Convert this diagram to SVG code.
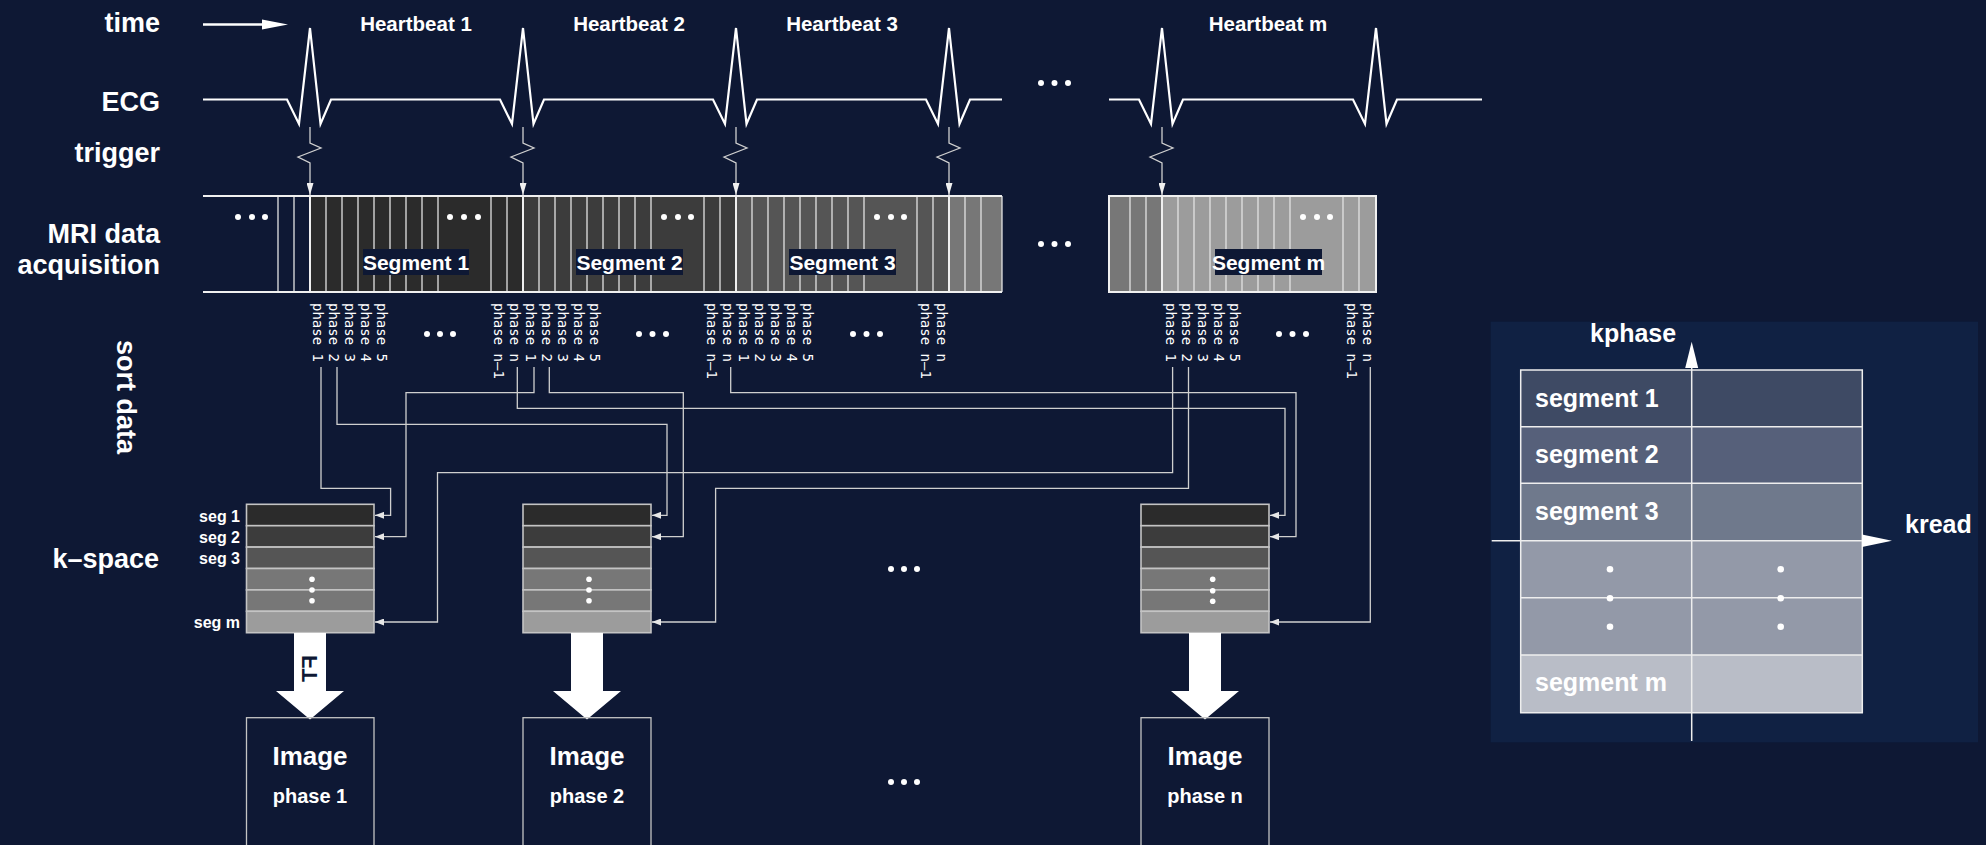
<svg xmlns="http://www.w3.org/2000/svg" width="1986" height="845" viewBox="0 0 1986 845">
<defs>
<style>
.t{font-family:"Liberation Sans",Arial,Helvetica,sans-serif;font-weight:bold;fill:#ffffff}
.big{font-size:27px;text-anchor:end}
.hb{font-size:20.5px;text-anchor:middle}
.sg{font-size:21px;text-anchor:middle}
.ks{font-size:16px;text-anchor:end}
.im{font-size:26px;text-anchor:middle}
.ip{font-size:20px;text-anchor:middle}
.kp{font-size:25px}
.ph{font-family:"DejaVu Sans Mono","Liberation Mono",monospace;font-size:14px;fill:#ffffff}
.cell{stroke:#e2e2e2;stroke-width:1.3;fill:none}
.trg{stroke:#f0f0f0;stroke-width:2;fill:none}
.conn{fill:none;stroke:#cfcfcf;stroke-width:1.3}
.ecg{fill:none;stroke:#ffffff;stroke-width:2.2;stroke-linejoin:miter}
.krow{stroke:#c4c4c4;stroke-width:1.6}
.box{fill:none;stroke:#c4c4c4;stroke-width:1.3}
.d{fill:#ffffff}
.grid{stroke:#eeeeee;stroke-width:1.5;fill:none}
</style>
<marker id="ah" viewBox="0 0 9 7" refX="9" refY="3.5" markerWidth="9" markerHeight="7" markerUnits="userSpaceOnUse" orient="auto">
<path d="M0,0 L9,3.5 L0,7 z" fill="#e6e6e6"/>
</marker>
<marker id="ta" viewBox="0 0 12 7" refX="12" refY="3.5" markerWidth="12" markerHeight="7" markerUnits="userSpaceOnUse" orient="auto">
<path d="M0,0 L12,3.5 L0,7 z" fill="#f0f0f0"/>
</marker>
</defs>
<rect width="1986" height="845" fill="#0e1834"/>

<g id="row-labels">
<text class="t big" x="160" y="31.5">time</text>
<text class="t big" x="160" y="110.5">ECG</text>
<text class="t big" x="160" y="162">trigger</text>
<text class="t big" x="160" y="243">MRI data</text>
<text class="t big" x="160" y="274">acquisition</text>
<text class="t" font-size="27" transform="translate(117,340) rotate(90)">sort data</text>
<text class="t big" x="159" y="568" font-size="28">k–space</text>
</g>

<g id="time-axis">
<line x1="203" y1="24.5" x2="263" y2="24.5" stroke="#fff" stroke-width="2.5"/>
<polygon points="262,19.5 288,24.5 262,29.5" fill="#fff"/>
</g>

<g id="heartbeats">
<text class="t hb" x="416" y="31">Heartbeat 1</text>
<text class="t hb" x="629" y="31">Heartbeat 2</text>
<text class="t hb" x="842" y="31">Heartbeat 3</text>
<text class="t hb" x="1268" y="31">Heartbeat m</text>
</g>

<g id="ecg">
<path class="ecg" d="M203,99.5 H287 L299,124 L310,28 L320.5,124 L331,99.5 H500 L512,124 L523,28 L533.5,124 L544,99.5 H713 L725,124 L736,28 L746.5,124 L757,99.5 H926 L938,124 L949,28 L959.5,124 L970,99.5 H1002"/>
<path class="ecg" d="M1109,99.5 H1139 L1151,124 L1162,28 L1172.5,124 L1183,99.5 H1353 L1365,124 L1376,28 L1386.5,124 L1397,99.5 H1482"/>
<circle class="d" cx="1041" cy="83" r="3"/><circle class="d" cx="1054.5" cy="83" r="3"/><circle class="d" cx="1068" cy="83" r="3"/>
</g>

<g id="triggers">
<path class="conn" marker-end="url(#ta)" d="M310,127 V143 L321,148 L298,157 L310,163 V195"/>
<path class="conn" marker-end="url(#ta)" d="M523,127 V143 L534,148 L511,157 L523,163 V195"/>
<path class="conn" marker-end="url(#ta)" d="M736,127 V143 L747,148 L724,157 L736,163 V195"/>
<path class="conn" marker-end="url(#ta)" d="M949,127 V143 L960,148 L937,157 L949,163 V195"/>
<path class="conn" marker-end="url(#ta)" d="M1162,127 V143 L1173,148 L1150,157 L1162,163 V195"/>
</g>

<g id="mri-bar-1">
<rect x="310" y="196" width="213" height="96" fill="#2b2b2b"/>
<rect x="523" y="196" width="213" height="96" fill="#3c3c3c"/>
<rect x="736" y="196" width="213" height="96" fill="#555555"/>
<rect x="949" y="196" width="53" height="96" fill="#777777"/>
<path class="cell" d="M278,196V292M294,196V292M326,196V292M342,196V292M358,196V292M374,196V292M390,196V292M406,196V292M422,196V292M438,196V292M491,196V292M507,196V292M539,196V292M555,196V292M571,196V292M587,196V292M603,196V292M619,196V292M635,196V292M651,196V292M704,196V292M720,196V292M752,196V292M768,196V292M784,196V292M800,196V292M816,196V292M832,196V292M848,196V292M864,196V292M917,196V292M933,196V292M965,196V292M981,196V292M1002,196V292"/>
<path class="trg" d="M310,196V292M523,196V292M736,196V292M949,196V292"/>
<path class="trg" d="M203,196H1002M203,292H1002"/>
<circle class="d" cx="238" cy="217" r="3"/><circle class="d" cx="252" cy="217" r="3"/><circle class="d" cx="265" cy="217" r="3"/>
<circle class="d" cx="450" cy="217" r="3"/><circle class="d" cx="464" cy="217" r="3"/><circle class="d" cx="478" cy="217" r="3"/>
<circle class="d" cx="664" cy="217" r="3"/><circle class="d" cx="678" cy="217" r="3"/><circle class="d" cx="691" cy="217" r="3"/>
<circle class="d" cx="877" cy="217" r="3"/><circle class="d" cx="891" cy="217" r="3"/><circle class="d" cx="904" cy="217" r="3"/>
<rect x="363" y="249" width="106" height="26" fill="#0e1834"/>
<text class="t sg" x="416" y="270">Segment 1</text>
<rect x="576" y="249" width="107" height="26" fill="#0e1834"/>
<text class="t sg" x="629.5" y="270">Segment 2</text>
<rect x="789" y="249" width="107" height="26" fill="#0e1834"/>
<text class="t sg" x="842.5" y="270">Segment 3</text>
</g>

<g id="gap-dots">
<circle class="d" cx="1041" cy="244" r="3"/><circle class="d" cx="1054.5" cy="244" r="3"/><circle class="d" cx="1068" cy="244" r="3"/>
</g>

<g id="mri-bar-m">
<rect x="1109" y="196" width="53" height="96" fill="#777777"/>
<rect x="1162" y="196" width="214" height="96" fill="#9c9c9c"/>
<path class="cell" d="M1130,196V292M1146,196V292M1178,196V292M1194,196V292M1210,196V292M1226,196V292M1242,196V292M1258,196V292M1274,196V292M1290,196V292M1343,196V292M1359,196V292"/>
<path class="trg" d="M1162,196V292"/>
<rect x="1109" y="196" width="267" height="96" class="trg"/>
<circle class="d" cx="1303" cy="217" r="3"/><circle class="d" cx="1317" cy="217" r="3"/><circle class="d" cx="1330" cy="217" r="3"/>
<rect x="1215" y="249" width="107" height="26" fill="#0e1834"/>
<text class="t sg" x="1268.5" y="270">Segment m</text>
</g>

<g id="phase-labels">
<text class="ph" transform="translate(313,303) rotate(90)">phase 1</text>
<text class="ph" transform="translate(329,303) rotate(90)">phase 2</text>
<text class="ph" transform="translate(345,303) rotate(90)">phase 3</text>
<text class="ph" transform="translate(361,303) rotate(90)">phase 4</text>
<text class="ph" transform="translate(377,303) rotate(90)">phase 5</text>
<text class="ph" transform="translate(494,303) rotate(90)">phase n–1</text>
<text class="ph" transform="translate(510,303) rotate(90)">phase n</text>
<text class="ph" transform="translate(526,303) rotate(90)">phase 1</text>
<text class="ph" transform="translate(542,303) rotate(90)">phase 2</text>
<text class="ph" transform="translate(558,303) rotate(90)">phase 3</text>
<text class="ph" transform="translate(574,303) rotate(90)">phase 4</text>
<text class="ph" transform="translate(590,303) rotate(90)">phase 5</text>
<text class="ph" transform="translate(707,303) rotate(90)">phase n–1</text>
<text class="ph" transform="translate(723,303) rotate(90)">phase n</text>
<text class="ph" transform="translate(739,303) rotate(90)">phase 1</text>
<text class="ph" transform="translate(755,303) rotate(90)">phase 2</text>
<text class="ph" transform="translate(771,303) rotate(90)">phase 3</text>
<text class="ph" transform="translate(787,303) rotate(90)">phase 4</text>
<text class="ph" transform="translate(803,303) rotate(90)">phase 5</text>
<text class="ph" transform="translate(921,303) rotate(90)">phase n–1</text>
<text class="ph" transform="translate(937,303) rotate(90)">phase n</text>
<text class="ph" transform="translate(1166,303) rotate(90)">phase 1</text>
<text class="ph" transform="translate(1182,303) rotate(90)">phase 2</text>
<text class="ph" transform="translate(1198,303) rotate(90)">phase 3</text>
<text class="ph" transform="translate(1214,303) rotate(90)">phase 4</text>
<text class="ph" transform="translate(1230,303) rotate(90)">phase 5</text>
<text class="ph" transform="translate(1347,303) rotate(90)">phase n–1</text>
<text class="ph" transform="translate(1363,303) rotate(90)">phase n</text>
<circle class="d" cx="427" cy="334" r="3"/><circle class="d" cx="440" cy="334" r="3"/><circle class="d" cx="453" cy="334" r="3"/>
<circle class="d" cx="639" cy="334" r="3"/><circle class="d" cx="652.5" cy="334" r="3"/><circle class="d" cx="666" cy="334" r="3"/>
<circle class="d" cx="853" cy="334" r="3"/><circle class="d" cx="866.5" cy="334" r="3"/><circle class="d" cx="880" cy="334" r="3"/>
<circle class="d" cx="1279" cy="334" r="3"/><circle class="d" cx="1292.5" cy="334" r="3"/><circle class="d" cx="1306" cy="334" r="3"/>
</g>

<g id="connectors">
<path class="conn" marker-end="url(#ah)" d="M321,367 V488.3 H390.6 V515.3 H375"/>
<path class="conn" marker-end="url(#ah)" d="M337,367 V424.3 H667 V515.3 H652"/>
<path class="conn" marker-end="url(#ah)" d="M517.3,367 V408.3 H1285 V515.3 H1270"/>
<path class="conn" marker-end="url(#ah)" d="M534,367 V392.7 H406 V536.7 H375"/>
<path class="conn" marker-end="url(#ah)" d="M549.3,367 V392.7 H683.3 V536.7 H652"/>
<path class="conn" marker-end="url(#ah)" d="M730.7,367 V392.7 H1296 V536.7 H1270"/>
<path class="conn" marker-end="url(#ah)" d="M1172.6,367 V472.7 H437.5 V622 H375"/>
<path class="conn" marker-end="url(#ah)" d="M1188.5,367 V488.3 H715.6 V622 H652"/>
<path class="conn" marker-end="url(#ah)" d="M1370.3,367 V622 H1270"/>
</g>

<g id="kspace-1">
<text class="t ks" x="240" y="521.5">seg 1</text>
<text class="t ks" x="240" y="542.5">seg 2</text>
<text class="t ks" x="240" y="564">seg 3</text>
<text class="t ks" x="240" y="628">seg m</text>
<rect class="krow" x="246.5" y="504.3" width="127.5" height="21.4" fill="#2b2b2b"/>
<rect class="krow" x="246.5" y="525.7" width="127.5" height="21.4" fill="#3c3c3c"/>
<rect class="krow" x="246.5" y="547.1" width="127.5" height="21.4" fill="#555555"/>
<rect class="krow" x="246.5" y="568.5" width="127.5" height="21.4" fill="#777777"/>
<rect class="krow" x="246.5" y="589.9" width="127.5" height="21.4" fill="#777777"/>
<rect class="krow" x="246.5" y="611.3" width="127.5" height="21.4" fill="#9c9c9c"/>
<circle class="d" cx="312" cy="579.3" r="2.8"/><circle class="d" cx="312" cy="590" r="2.8"/><circle class="d" cx="312" cy="600.7" r="2.8"/>
</g>
<g id="kspace-2">
<rect class="krow" x="523" y="504.3" width="128" height="21.4" fill="#2b2b2b"/>
<rect class="krow" x="523" y="525.7" width="128" height="21.4" fill="#3c3c3c"/>
<rect class="krow" x="523" y="547.1" width="128" height="21.4" fill="#555555"/>
<rect class="krow" x="523" y="568.5" width="128" height="21.4" fill="#777777"/>
<rect class="krow" x="523" y="589.9" width="128" height="21.4" fill="#777777"/>
<rect class="krow" x="523" y="611.3" width="128" height="21.4" fill="#9c9c9c"/>
<circle class="d" cx="589" cy="579.3" r="2.8"/><circle class="d" cx="589" cy="590" r="2.8"/><circle class="d" cx="589" cy="600.7" r="2.8"/>
</g>
<g id="kspace-n">
<rect class="krow" x="1141" y="504.3" width="128" height="21.4" fill="#2b2b2b"/>
<rect class="krow" x="1141" y="525.7" width="128" height="21.4" fill="#3c3c3c"/>
<rect class="krow" x="1141" y="547.1" width="128" height="21.4" fill="#555555"/>
<rect class="krow" x="1141" y="568.5" width="128" height="21.4" fill="#777777"/>
<rect class="krow" x="1141" y="589.9" width="128" height="21.4" fill="#777777"/>
<rect class="krow" x="1141" y="611.3" width="128" height="21.4" fill="#9c9c9c"/>
<circle class="d" cx="1212.7" cy="579.3" r="2.8"/><circle class="d" cx="1212.7" cy="590.7" r="2.8"/><circle class="d" cx="1212.7" cy="601.3" r="2.8"/>
</g>

<g id="mid-dots">
<circle class="d" cx="891" cy="569" r="3"/><circle class="d" cx="904" cy="569" r="3"/><circle class="d" cx="917" cy="569" r="3"/>
<circle class="d" cx="891" cy="782" r="3"/><circle class="d" cx="904" cy="782" r="3"/><circle class="d" cx="917" cy="782" r="3"/>
</g>

<g id="ft-arrows">
<polygon fill="#ffffff" points="294,633 326,633 326,691 344,691 310,719.5 276,691 294,691"/>
<polygon fill="#ffffff" points="571,633 603,633 603,691 621,691 587,719.5 553,691 571,691"/>
<polygon fill="#ffffff" points="1189,633 1221,633 1221,691 1239,691 1205,719.5 1171,691 1189,691"/>
<text font-family="Liberation Sans, Arial, sans-serif" font-weight="bold" font-size="22" fill="#0e1834" transform="matrix(0,1,1,0,317,655)">FT</text>
</g>

<g id="image-1">
<rect class="box" x="246.5" y="717.7" width="127.5" height="140"/>
<text class="t im" x="310" y="765">Image</text>
<text class="t ip" x="310" y="803">phase 1</text>
</g>
<g id="image-2">
<rect class="box" x="523" y="717.7" width="128" height="140"/>
<text class="t im" x="587" y="765">Image</text>
<text class="t ip" x="587" y="803">phase 2</text>
</g>
<g id="image-n">
<rect class="box" x="1141" y="717.7" width="128" height="140"/>
<text class="t im" x="1205" y="765">Image</text>
<text class="t ip" x="1205" y="803">phase n</text>
</g>

<g id="kspace-panel">
<rect x="1490.7" y="321.7" width="487.3" height="420.6" fill="#102143"/>
<rect x="1520.7" y="370" width="341.6" height="56.7" fill="#3e4a64"/>
<rect x="1520.7" y="426.7" width="341.6" height="56.6" fill="#56607a"/>
<rect x="1520.7" y="483.3" width="341.6" height="57.4" fill="#6f798c"/>
<rect x="1520.7" y="540.7" width="341.6" height="114.3" fill="#9399a8"/>
<rect x="1520.7" y="655" width="341.6" height="57.7" fill="#b9bdc7"/>
<path class="grid" d="M1520.7,370 H1862.3 V712.7 H1520.7 Z M1520.7,426.7 H1862.3 M1520.7,483.3 H1862.3 M1520.7,597.7 H1862.3 M1520.7,655 H1862.3"/>
<path class="grid" d="M1491.7,540.7 H1864 M1691.7,741 V366"/>
<polygon fill="#ffffff" points="1862,534.5 1892,540.7 1862,547"/>
<polygon fill="#ffffff" points="1685.2,368 1691.7,341.7 1698.2,368"/>
<text class="t kp" x="1590" y="342">kphase</text>
<text class="t kp" x="1905" y="533">kread</text>
<text class="t kp" x="1535" y="406.5">segment 1</text>
<text class="t kp" x="1535" y="463">segment 2</text>
<text class="t kp" x="1535" y="520">segment 3</text>
<text class="t kp" x="1535" y="691">segment m</text>
<circle class="d" cx="1610" cy="569.3" r="3.3"/><circle class="d" cx="1610" cy="598.3" r="3.3"/><circle class="d" cx="1610" cy="626.7" r="3.3"/>
<circle class="d" cx="1780.7" cy="569.3" r="3.3"/><circle class="d" cx="1780.7" cy="598.3" r="3.3"/><circle class="d" cx="1780.7" cy="626.7" r="3.3"/>
</g>
</svg>
